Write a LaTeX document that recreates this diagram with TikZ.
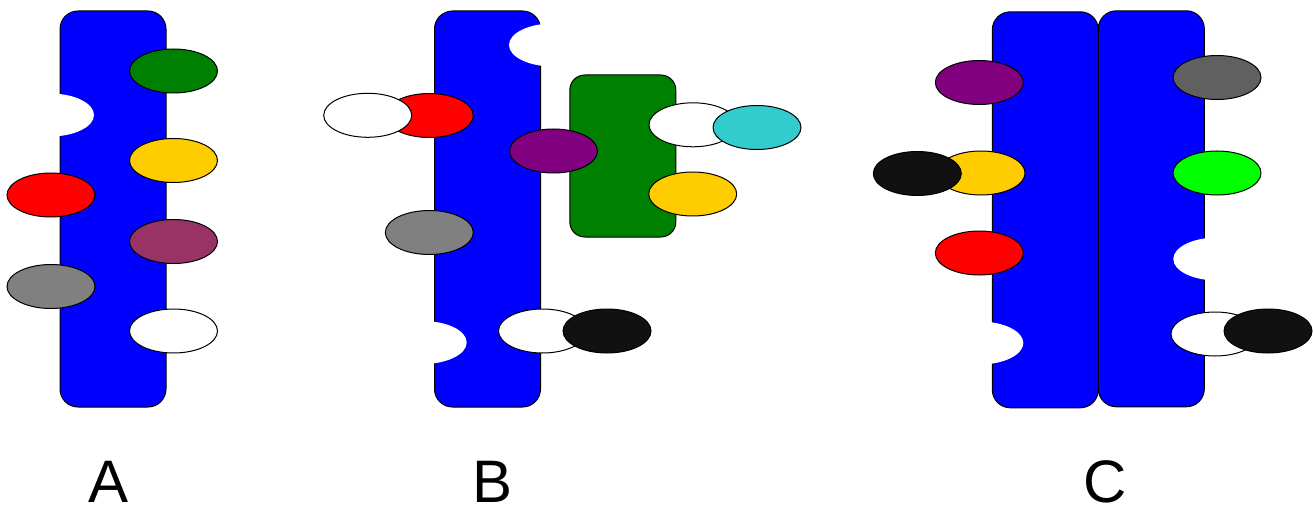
\documentclass[tikz,border=0pt]{standalone}
\usepackage{fontspec}
\setmainfont{Liberation Sans}
\usetikzlibrary{shapes.geometric}
\definecolor{cblue}{HTML}{0000FF}
\definecolor{cgreen}{HTML}{008000}
\definecolor{cyellow}{HTML}{FFCC00}
\definecolor{cred}{HTML}{FF0000}
\definecolor{cwine}{HTML}{993366}
\definecolor{cgray}{HTML}{808080}
\definecolor{cpurple}{HTML}{800080}
\definecolor{ccyan}{HTML}{33CCCC}
\definecolor{cdgray}{HTML}{606060}
\definecolor{clime}{HTML}{00FF00}
\definecolor{cblack}{HTML}{111111}
\tikzset{
  bar/.style={draw=black, line width=1pt, fill=cblue, rounded corners=18pt,
    minimum width=106pt, minimum height=396pt, inner sep=0pt},
  greenbox/.style={draw=black, line width=1pt, fill=cgreen, rounded corners=15pt,
    minimum width=106pt, minimum height=162pt, inner sep=0pt},
  blob/.style={ellipse, draw=black, line width=1pt, fill=#1,
    minimum width=88pt, minimum height=44pt, inner sep=0pt},
  notch/.style={ellipse, fill=white, draw=none,
    minimum width=88pt, minimum height=43pt, inner sep=0pt},
  letter/.style={font=\fontsize{60}{72}\selectfont, anchor=base, inner sep=0pt}
}
\begin{document}
\begin{tikzpicture}[x=1pt, y=-1pt]
\useasboundingbox (0,0) rectangle (1313,505);
% ---- A ----
\node[bar] (barA) at (113,209) {};
\node[notch] (nA1) at (50,115) {};
\node[blob=cgreen]  (aG) at (173.5,71) {};
\node[blob=cyellow] (aY) at (173.5,160.5) {};
\node[blob=cred]    (aR) at (51,195) {};
\node[blob=cwine]   (aW) at (173.5,241.5) {};
\node[blob=cgray]   (aK) at (51,286.5) {};
\node[blob=white]   (aE) at (173.5,331) {};
\node[letter] (lA) at (109,502.5) {A};
% ---- B ----
\node[bar] (barB) at (487.5,209) {};
\node[notch] (nB1) at (553,45) {};
\node[notch] (nB2) at (422.7,342.5) {};
\node[greenbox] (boxB) at (622.8,156) {};
\node[blob=cred]    (bR) at (429.3,115.5) {};
\node[blob=white]   (bE1) at (367.7,115.3) {};
\node[blob=cpurple] (bP) at (553.5,151) {};
\node[blob=cgray]   (bK) at (429.3,232.5) {};
\node[blob=white]   (bE2) at (542.5,331) {};
\node[blob=cblack]  (bB) at (607,331) {};
\node[blob=white]   (bE3) at (693,124.8) {};
\node[blob=ccyan]   (bC) at (757,127.5) {};
\node[blob=cyellow] (bY) at (692.7,194) {};
\node[letter] (lB) at (493,502.5) {B};
% ---- C ----
\node[bar] (barC1) at (1045.3,209.8) {};
\node[bar] (barC2) at (1151.3,208.8) {};
\node[notch] (nC1) at (979.3,343) {};
\node[notch] (nC2) at (1217.3,259) {};
\node[blob=cpurple] (cP) at (979.3,82.5) {};
\node[blob=cyellow] (cY) at (981,173) {};
\node[blob=cblack]  (cB1) at (917.3,173.5) {};
\node[blob=cred]    (cR) at (979.3,253) {};
\node[blob=cdgray]  (cK) at (1217,77.5) {};
\node[blob=clime]   (cL) at (1217,173) {};
\node[blob=white]   (cE) at (1215,334) {};
\node[blob=cblack]  (cB2) at (1268,331) {};
\node[letter] (lC) at (1104.7,502.5) {C};
\end{tikzpicture}
\end{document}
